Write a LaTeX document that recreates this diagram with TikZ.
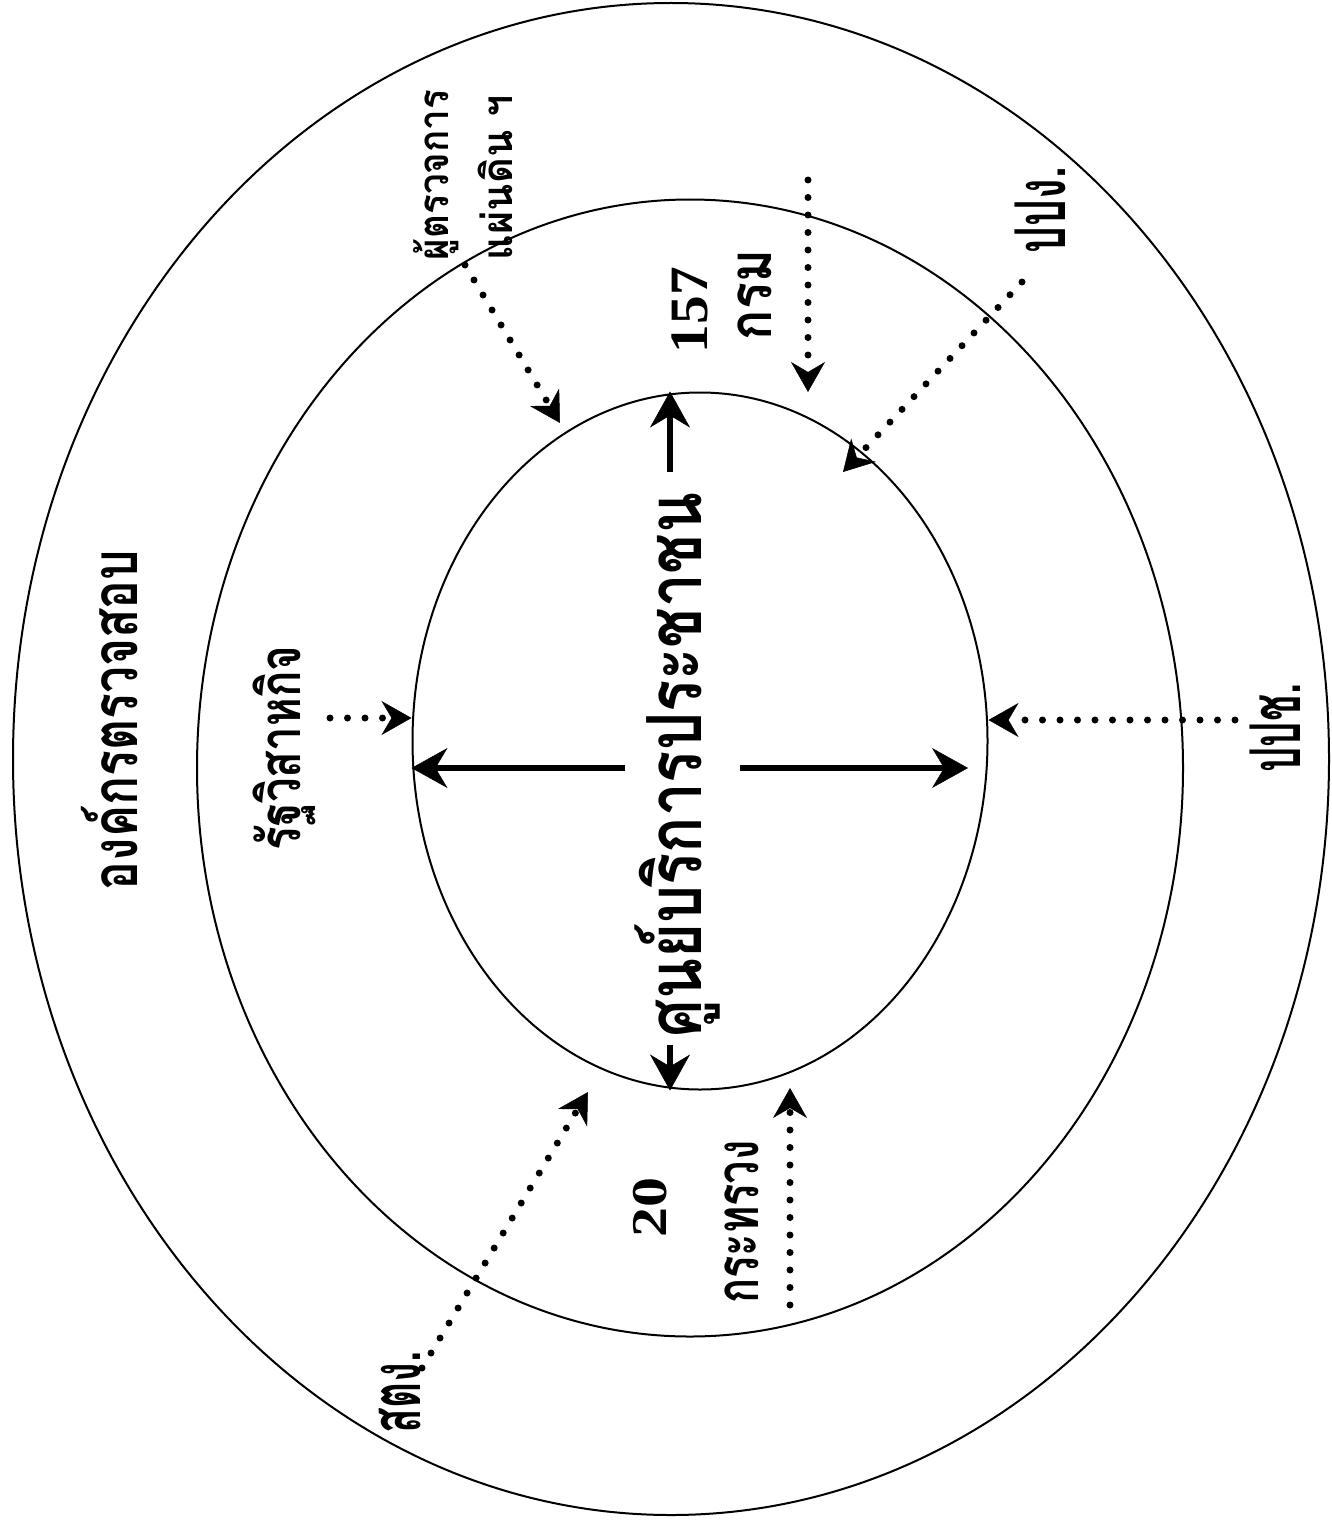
\documentclass[tikz,border=0pt]{standalone}
\usepackage{fontspec}
\setmainfont{Liberation Serif}
\newfontfamily\thai[Script=Thai]{Loma}
\usetikzlibrary{arrows.meta,shapes.geometric}
\newcommand\fitw[2]{\resizebox{#1}{\height}{#2}}
\newcommand\thsize[1]{\thai\bfseries\fontsize{#1}{#1}\selectfont}
\begin{document}
\begin{tikzpicture}[x=1pt,y=-1pt,
  ring/.style={draw, ellipse, line width=2pt, inner sep=0pt},
  lbl/.style={rotate=90, inner sep=0pt, anchor=center},
  dotarrow/.style={line width=7pt, dash pattern=on 0pt off 17.5pt, line cap=round,
    -{Stealth[length=30pt,width=34pt,inset=10pt,line width=0.5pt]}},
  boldarrow/.style={line width=5.5pt,
    -{Stealth[length=36pt,width=40pt,inset=12pt,line width=0.5pt]}}
]
\useasboundingbox (0,0) rectangle (1332,1525);
\fill[white] (0,0) rectangle (1332,1525);

% rings
\node[ring, minimum width=1316pt, minimum height=1512pt] (outer) at (671,759) {};
\node[ring, minimum width=986pt, minimum height=1137pt] (middle) at (690,768) {};
\node[ring, minimum width=575pt, minimum height=697pt] (inner) at (700,741) {};

% labels
\node[lbl, font=\thsize{76}] (centre) at (677,765) {\fitw{545pt}{ศูนย์บริการประชาชน}};
\node[lbl, font=\thsize{64}] (org) at (110,720) {\fitw{340pt}{องค์กรตรวจสอบ}};
\node[lbl, font=\thsize{58}] (rat) at (284,748) {\fitw{205pt}{รัฐวิสาหกิจ}};
\node[lbl, font=\thsize{42}, align=left] (ombud) at (463,175)
  {\fitw{170pt}{ผู้ตรวจการ}\\[18pt]\fitw{165pt}{แผ่นดิน ฯ}};
\node[lbl, font=\bfseries\fontsize{54}{54}\selectfont] (n157) at (690,310) {\fitw{86pt}{157}};
\node[lbl, font=\thsize{60}] (krom) at (755,295) {\fitw{90pt}{กรม}};
\node[lbl, font=\thsize{70}] (ppg) at (1040,210) {\fitw{86pt}{ปปง.}};
\node[lbl, font=\thsize{70}] (ppc) at (1275,728) {\fitw{89pt}{ปปช.}};
\node[lbl, font=\bfseries\fontsize{50}{50}\selectfont] (n20) at (650,1207) {\fitw{60pt}{20}};
\node[lbl, font=\thsize{60}] (ksv) at (742,1222) {\fitw{163pt}{กระทรวง}};
\node[lbl, font=\thsize{70}] (stg) at (400,1392) {\fitw{82pt}{สตง.}};

% bold arrows from the centre text
\coordinate (ta) at (670,472);
\coordinate (ba) at (670,1045);
\coordinate (la) at (625,768);
\coordinate (ra) at (740,768);
\coordinate (rt) at (968,768);
\draw[boldarrow] (ta) -- (ta |- inner.north);
\draw[boldarrow] (ba) -- (ba |- inner.south);
\draw[boldarrow] (la) -- (la -| inner.west);
\draw[boldarrow] (ra) -- (rt);

% dotted arrows
\coordinate (rs) at (330,718);
\draw[dotarrow] (rs) -- (rs -| inner.west);
\coordinate (os) at (465,265);
\coordinate (oe) at (560,423);
\draw[dotarrow] (os) -- (oe);
\coordinate (ks) at (808,180);
\coordinate (ke) at (808,392);
\draw[dotarrow] (ks) -- (ke);
\coordinate (gs) at (1022,282);
\coordinate (ge) at (843,472);
\draw[dotarrow] (gs) -- (ge);
\coordinate (cs) at (1235,720);
\draw[dotarrow] (cs) -- (cs -| inner.east);
\coordinate (vs) at (790,1305);
\coordinate (ve) at (790,1088);
\draw[dotarrow] (vs) -- (ve);
\coordinate (ss) at (422,1368);
\coordinate (se) at (588,1092);
\draw[dotarrow] (ss) -- (se);
\end{tikzpicture}
\end{document}
